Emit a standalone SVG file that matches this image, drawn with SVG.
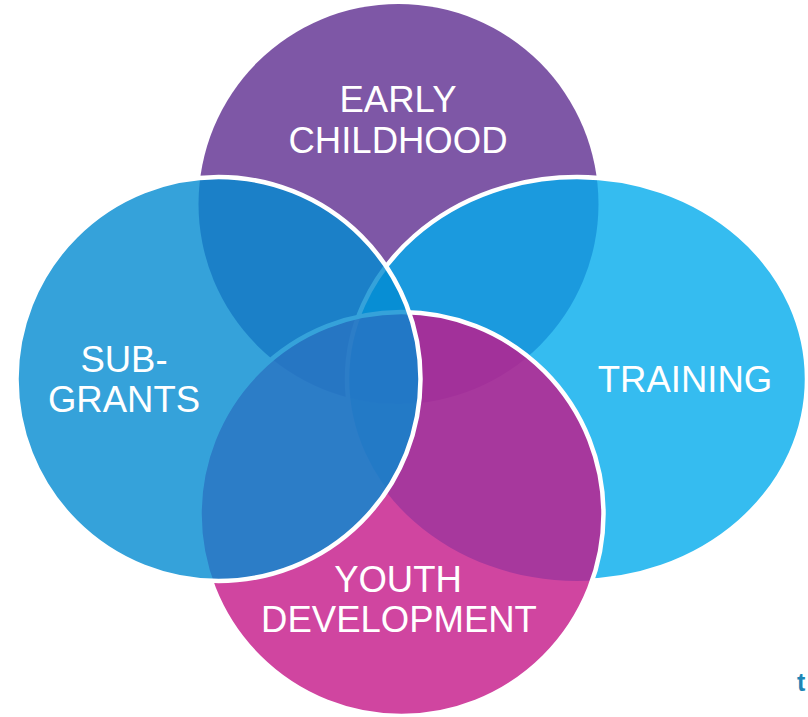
<svg xmlns="http://www.w3.org/2000/svg" width="808" height="717" viewBox="0 0 808 717">
  <style>
    .lbl { font-family: "Liberation Sans", Arial, sans-serif; font-size: 36.5px; fill: #ffffff; text-anchor: middle; }
    .ring { stroke: #ffffff; stroke-width: 4.5; fill-opacity: 0.8; }
  </style>
  <defs>
    <mask id="rightStrokeMask" maskUnits="userSpaceOnUse" x="0" y="0" width="808" height="717">
      <rect x="0" y="0" width="808" height="717" fill="#ffffff"/>
      <circle cx="401.5" cy="514" r="202" fill="#000000"/>
      <circle cx="218.5" cy="379" r="202" fill="#ffffff"/>
    </mask>
  </defs>
  <rect x="0" y="0" width="808" height="717" fill="#ffffff"/>

  <g id="early-childhood">
    <circle cx="398.5" cy="204" r="200" fill="#7E57A6"/>
  </g>

  <g id="training">
    <ellipse cx="577" cy="379" rx="230" ry="202" fill="#03ABEC" fill-opacity="0.8"/>
    <ellipse cx="577" cy="379" rx="230" ry="202" fill="none" stroke="#ffffff" stroke-width="4.5" mask="url(#rightStrokeMask)"/>
  </g>

  <g id="youth-development">
    <circle class="ring" cx="401.5" cy="514" r="202" fill="#C41788"/>
  </g>

  <g id="sub-grants">
    <circle class="ring" cx="218.5" cy="379" r="202" fill="#038BD1"/>
  </g>

  <g id="labels">
    <text class="lbl" x="398" y="112">EARLY</text>
    <text class="lbl" x="398" y="153">CHILDHOOD</text>
    <text class="lbl" x="124" y="372">SUB-</text>
    <text class="lbl" x="124" y="412">GRANTS</text>
    <text class="lbl" x="685" y="392">TRAINING</text>
    <text class="lbl" x="398" y="592">YOUTH</text>
    <text class="lbl" x="399" y="632">DEVELOPMENT</text>
  </g>

  <g id="connectors"></g>

  <text x="797" y="691" font-family="'Liberation Sans', Arial, sans-serif" font-size="25" font-weight="bold" fill="#1E86B6">t</text>
</svg>
